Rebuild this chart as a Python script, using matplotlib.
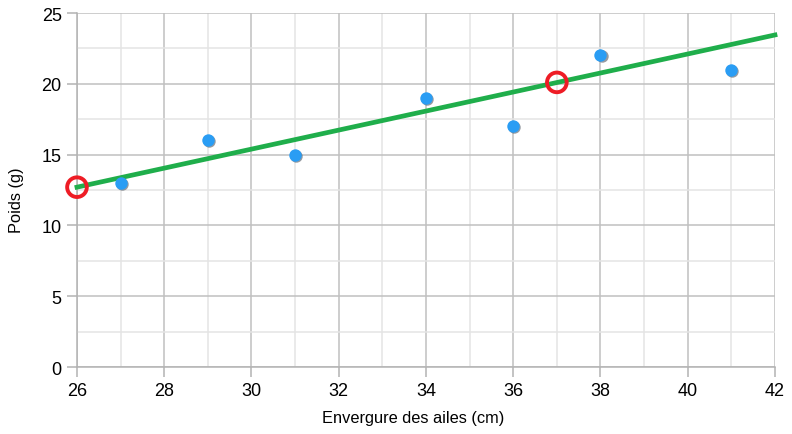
import numpy as np
import matplotlib
matplotlib.use("Agg")
import matplotlib.pyplot as plt

# data
envergure = [27, 29, 31, 34, 36, 38, 41]
poids = [13, 16, 15, 19, 17, 22, 21]
line_x = [26, 42]
line_y = [12.7, 23.45]
marked_x = [26, 37]
marked_y = [12.7, 20.1]

plt.rcParams['font.family'] = ['Liberation Sans', 'DejaVu Sans']

fig = plt.figure(figsize=(7.92, 4.35), dpi=100)
ax = fig.add_axes([0.0972, 0.154, 0.8813, 0.8138])

ax.set_xlim(26, 42)
ax.set_ylim(0, 25)
ax.set_xticks(np.arange(26, 43, 2))
ax.set_yticks(np.arange(0, 26, 5))
ax.set_xticks(np.arange(27, 42, 2), minor=True)
ax.set_yticks(np.arange(2.5, 25, 5), minor=True)
ax.grid(True, which='major', color='#c0c0c0', linewidth=1.1)
ax.grid(True, which='minor', color='#e4e4e4', linewidth=1.1)
ax.set_axisbelow(True)
for s in ['top', 'right']:
    ax.spines[s].set_visible(False)
for s in ['left', 'bottom']:
    ax.spines[s].set_color('#b3b3b3')
    ax.spines[s].set_linewidth(1.1)
ax.tick_params(which='major', length=7, width=1.1, color='#b3b3b3', labelsize=13, pad=4)
ax.tick_params(which='minor', length=0)

# regression line
ax.plot(line_x, line_y, color='#1fae4b', linewidth=3.4, zorder=3, clip_on=False)

# points with small shadow
ax.scatter(np.array(envergure) + 0.025, np.array(poids) - 0.07, s=80, color='#404a55', alpha=0.55, linewidths=0, zorder=4)
ax.scatter(envergure, poids, s=80, color='#2a9df4', linewidths=0, zorder=5)

# marked points
ax.scatter(marked_x, marked_y, s=200, facecolors='none', edgecolors='#ee1c25', linewidths=2.8, zorder=6, clip_on=False)

ax.set_xlabel('Envergure des ailes (cm)', fontsize=11.8, labelpad=10)
ax.set_ylabel('Poids (g)', fontsize=11.8, labelpad=10)
ax.xaxis.set_label_coords(0.481, -0.122)
ax.yaxis.set_label_coords(-0.076, 0.475)

fig.savefig('out.png', dpi=100)
